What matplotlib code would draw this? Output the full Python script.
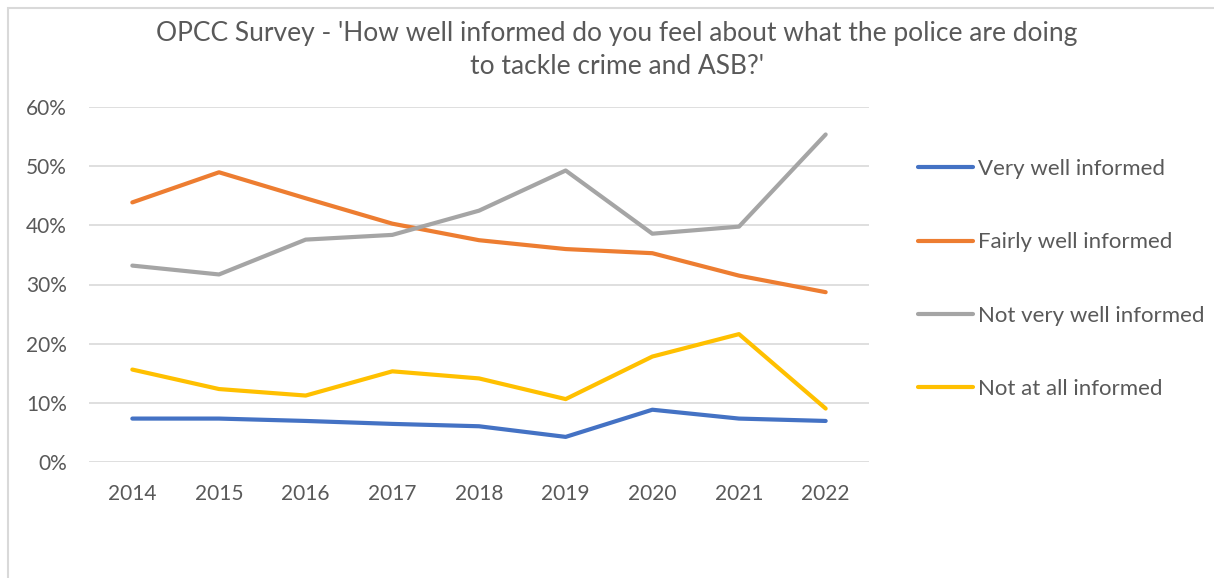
import matplotlib
matplotlib.use("Agg")
import matplotlib.pyplot as plt
from matplotlib.patches import Rectangle
from matplotlib.ticker import PercentFormatter

# ---- data ----
years = ["2014", "2015", "2016", "2017", "2018", "2019", "2020", "2021", "2022"]
very_well = [7.3, 7.3, 6.9, 6.4, 6.0, 4.2, 8.8, 7.3, 6.9]
fairly_well = [43.9, 49.0, 44.6, 40.3, 37.5, 36.0, 35.3, 31.5, 28.7]
not_very_well = [33.2, 31.7, 37.6, 38.4, 42.5, 49.3, 38.6, 39.8, 55.4]
not_at_all = [15.6, 12.3, 11.2, 15.3, 14.1, 10.6, 17.8, 21.6, 9.0]

series = [
    ("Very well informed", very_well, "#4472C4"),
    ("Fairly well informed", fairly_well, "#ED7D31"),
    ("Not very well informed", not_very_well, "#A5A5A5"),
    ("Not at all informed", not_at_all, "#FFC000"),
]

plt.rcParams["font.family"] = ["Lato", "DejaVu Sans"]
text_col = "#595959"
grid_col = "#D9D9D9"

W, H = 1214, 578
fig = plt.figure(figsize=(W / 100, H / 100), dpi=100)

# chart frame (cropped at right and bottom in the reference)
fig.add_artist(Rectangle((8 / W, -0.05), 1.2, 1 - 8 / H + 0.05,
                         transform=fig.transFigure, fill=False,
                         edgecolor=grid_col, lw=1.5))

ax = fig.add_axes([89 / W, 1 - 461.7 / H, 780 / W, (461.7 - 107.3) / H])
x = range(len(years))
for label, vals, col in series:
    ax.plot(x, vals, color=col, lw=3, label=label,
            solid_capstyle="round", solid_joinstyle="round")

ax.set_xlim(-0.5, len(years) - 0.5)
ax.set_ylim(0, 60)
ax.set_yticks(range(0, 61, 10))
ax.yaxis.set_major_formatter(PercentFormatter(decimals=0))
ax.set_xticks(list(x))
ax.set_xticklabels(years)
ax.grid(axis="y", color=grid_col, lw=1.2)
ax.set_axisbelow(True)
for s in ax.spines.values():
    s.set_visible(False)
ax.tick_params(length=0, labelsize=15, colors=text_col)
ax.tick_params(axis="y", pad=16)
ax.tick_params(axis="x", pad=16)

fig.text(0.508, 1 - 33 / H,
         "OPCC Survey - 'How well informed do you feel about what the police are doing",
         ha="center", va="center", fontsize=19, color=text_col)
fig.text(0.508, 1 - 67 / H, "to tackle crime and ASB?'",
         ha="center", va="center", fontsize=19, color=text_col)

fig.legend(loc="center left", bbox_to_anchor=(918 / W, 1 - 279 / H),
           frameon=False, fontsize=16, labelcolor=text_col,
           borderpad=0, borderaxespad=0,
           handlelength=2.48, handletextpad=0.22, labelspacing=2.4)

fig.savefig("out.png", dpi=100)
